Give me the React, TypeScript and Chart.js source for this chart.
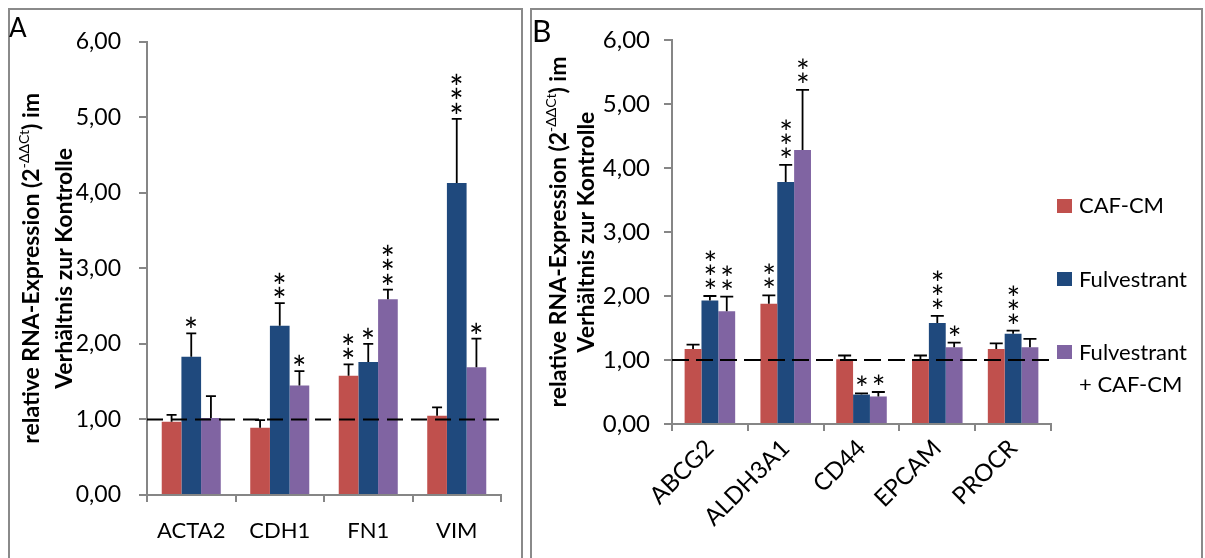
import React, { useEffect, useRef } from 'react';
import { Chart, registerables } from 'chart.js';

Chart.register(...registerables);

const FONT = "Lato, 'Open Sans', sans-serif";
const AXIS = '#868686';

const SERIES = ['CAF-CM', 'Fulvestrant', 'Fulvestrant + CAF-CM'];
const COLORS = ['#C0504D', '#1F497D', '#8064A2'];

// Panel A
const catsA = ['ACTA2', 'CDH1', 'FN1', 'VIM'];
const cafA = [0.97, 0.89, 1.58, 1.05];
const fulA = [1.83, 2.24, 1.76, 4.13];
const comboA = [1.02, 1.45, 2.59, 1.69];
const cafErrA = [0.09, 0.1, 0.15, 0.11];
const fulErrA = [0.31, 0.3, 0.24, 0.85];
const comboErrA = [0.29, 0.19, 0.13, 0.38];
const cafStarsA = [0, 0, 2, 0];
const fulStarsA = [1, 2, 1, 3];
const comboStarsA = [0, 1, 3, 1];

// Panel B
const catsB = ['ABCG2', 'ALDH3A1', 'CD44', 'EPCAM', 'PROCR'];
const cafB = [1.17, 1.88, 1.01, 1.01, 1.17];
const fulB = [1.93, 3.78, 0.46, 1.58, 1.41];
const comboB = [1.76, 4.28, 0.43, 1.2, 1.2];
const cafErrB = [0.07, 0.13, 0.06, 0.06, 0.09];
const fulErrB = [0.07, 0.27, 0.02, 0.11, 0.05];
const comboErrB = [0.23, 0.94, 0.07, 0.07, 0.13];
const cafStarsB = [0, 2, 0, 0, 0];
const fulStarsB = [3, 3, 1, 3, 3];
const comboStarsB = [2, 2, 1, 1, 0];

const yTicks = [0, 1, 2, 3, 4, 5, 6];
const refLine = 1;

const titleLine1 = ['relative RNA-Expression (2', '-ΔΔCt', ') im'];
const titleLine2 = 'Verhältnis zur Kontrolle';

type Panel = {
  cats: string[];
  values: number[][];
  errs: number[][];
  stars: number[][];
  width: number;
  height: number;
  area: { left: number; top: number; right: number; bottom: number };
  tickFont: number;
  tickPad: number;
  catFont: number;
  catPad: number;
  rot: number;
  titleFont: number;
  titleX: [number, number];
  capHalf: number;
  starW: number;
  starGap: number;
  starStep: number;
  dash: number[];
};

const panelA: Panel = {
  cats: catsA,
  values: [cafA, fulA, comboA],
  errs: [cafErrA, fulErrA, comboErrA],
  stars: [cafStarsA, fulStarsA, comboStarsA],
  width: 511,
  height: 548,
  area: { left: 137, top: 28, right: 491, bottom: 485 },
  tickFont: 23,
  tickPad: 18,
  catFont: 22,
  catPad: 16,
  rot: 0,
  titleFont: 23,
  titleX: [29, 62],
  capHalf: 5,
  starW: 10.5,
  starGap: 11,
  starStep: 14.5,
  dash: [16, 8],
};

const panelB: Panel = {
  cats: catsB,
  values: [cafB, fulB, comboB],
  errs: [cafErrB, fulErrB, comboErrB],
  stars: [cafStarsB, fulStarsB, comboStarsB],
  width: 669,
  height: 548,
  area: { left: 140, top: 30, right: 519, bottom: 414 },
  tickFont: 24,
  tickPad: 14,
  catFont: 24,
  catPad: 3,
  rot: 45,
  titleFont: 23,
  titleX: [34, 62],
  capHalf: 6.5,
  starW: 10,
  starGap: 12.5,
  starStep: 14,
  dash: [17, 7],
};

function buildChart(canvas: HTMLCanvasElement, p: Panel) {
  const datasets = SERIES.map((name, i) => ({
    label: name,
    data: p.values[i],
    backgroundColor: COLORS[i],
    borderWidth: 0,
    categoryPercentage: 0.667,
    barPercentage: 1.0,
  }));

  const extras = {
    id: 'extras',
    afterDatasetsDraw(chart: any) {
      const ctx: CanvasRenderingContext2D = chart.ctx;
      const ca = chart.chartArea;
      const ys = chart.scales.y;
      ctx.save();
      ctx.strokeStyle = '#000';
      ctx.fillStyle = '#000';
      ctx.lineWidth = 1.8;
      // size the asterisk glyph to the wanted width
      ctx.font = `100px ${FONT}`;
      const probe = ctx.measureText('*');
      const gw = probe.actualBoundingBoxLeft + probe.actualBoundingBoxRight || 40;
      const starSize = (100 * p.starW) / gw;
      ctx.font = `${starSize.toFixed(1)}px ${FONT}`;
      const m = ctx.measureText('*');
      const starShift = (m.actualBoundingBoxAscent - m.actualBoundingBoxDescent) / 2;
      const starDx = (m.actualBoundingBoxLeft - m.actualBoundingBoxRight) / 2;
      ctx.textAlign = 'left';
      ctx.textBaseline = 'alphabetic';
      p.values.forEach((vals, di) => {
        const meta = chart.getDatasetMeta(di);
        meta.data.forEach((bar: any, j: number) => {
          const top = ys.getPixelForValue(vals[j] + p.errs[di][j]);
          const x = bar.x;
          ctx.beginPath();
          ctx.moveTo(x, bar.y);
          ctx.lineTo(x, top);
          ctx.moveTo(x - p.capHalf, top);
          ctx.lineTo(x + p.capHalf, top);
          ctx.stroke();
          const n = p.stars[di][j];
          for (let k = 0; k < n; k++) {
            const yc = top - p.starGap - k * p.starStep;
            ctx.fillText('*', x + starDx, yc + starShift);
          }
        });
      });
      const y1 = ys.getPixelForValue(refLine);
      ctx.lineWidth = 2;
      ctx.setLineDash(p.dash);
      ctx.beginPath();
      ctx.moveTo(ca.left, y1);
      ctx.lineTo(ca.right + 3, y1);
      ctx.stroke();
      ctx.restore();
    },
    afterDraw(chart: any) {
      const ctx: CanvasRenderingContext2D = chart.ctx;
      const ca = chart.chartArea;
      const yc = (ca.top + ca.bottom) / 2;
      const big = `bold ${p.titleFont}px ${FONT}`;
      const small = `${Math.round(p.titleFont * 0.6)}px ${FONT}`;
      const drawLine = (parts: { t: string; f: string; rise: number }[], xb: number) => {
        ctx.save();
        ctx.translate(xb, yc);
        ctx.rotate(-Math.PI / 2);
        ctx.fillStyle = '#000';
        ctx.textAlign = 'left';
        ctx.textBaseline = 'alphabetic';
        let w = 0;
        parts.forEach((pt) => {
          ctx.font = pt.f;
          w += ctx.measureText(pt.t).width;
        });
        let x = -w / 2;
        parts.forEach((pt) => {
          ctx.font = pt.f;
          ctx.fillText(pt.t, x, -pt.rise);
          x += ctx.measureText(pt.t).width;
        });
        ctx.restore();
      };
      drawLine(
        [
          { t: titleLine1[0], f: big, rise: 0 },
          { t: titleLine1[1], f: small, rise: p.titleFont * 0.42 },
          { t: titleLine1[2], f: big, rise: 0 },
        ],
        p.titleX[0]
      );
      drawLine([{ t: titleLine2, f: big, rise: 0 }], p.titleX[1]);
    },
  };

  return new Chart(canvas, {
    type: 'bar',
    data: { labels: p.cats, datasets },
    options: {
      responsive: false,
      maintainAspectRatio: false,
      animation: false,
      layout: { padding: { left: 0, top: p.area.top, right: p.width - p.area.right, bottom: 0 } },
      plugins: { legend: { display: false }, tooltip: { enabled: false }, title: { display: false } },
      scales: {
        x: {
          grid: {
            display: true,
            drawOnChartArea: false,
            drawTicks: true,
            tickLength: 7,
            color: AXIS,
            lineWidth: 2,
            offset: true,
          },
          border: { display: true, color: AXIS, width: 2 },
          ticks: {
            color: '#000',
            font: { family: FONT, size: p.catFont },
            padding: p.catPad,
            maxRotation: p.rot,
            minRotation: p.rot,
            autoSkip: false,
          },
          afterFit: (s: any) => {
            s.height = p.height - p.area.bottom;
          },
        },
        y: {
          min: 0,
          max: 6,
          afterBuildTicks: (s: any) => {
            s.ticks = yTicks.map((v) => ({ value: v }));
          },
          grid: {
            display: true,
            drawOnChartArea: false,
            drawTicks: true,
            tickLength: 8,
            color: AXIS,
            lineWidth: 2,
          },
          border: { display: true, color: AXIS, width: 2 },
          ticks: {
            color: '#000',
            font: { family: FONT, size: p.tickFont },
            padding: p.tickPad,
            callback: (v: any) => Number(v).toFixed(2).replace('.', ','),
          },
          afterFit: (s: any) => {
            s.width = p.area.left;
          },
        },
      },
    } as any,
    plugins: [extras],
  });
}

const legendText: React.CSSProperties = {
  position: 'absolute',
  fontSize: 22,
  lineHeight: 1,
  color: '#000',
  whiteSpace: 'nowrap',
};

export default function App() {
  const refA = useRef<HTMLCanvasElement>(null);
  const refB = useRef<HTMLCanvasElement>(null);

  useEffect(() => {
    const a = buildChart(refA.current as HTMLCanvasElement, panelA);
    const b = buildChart(refB.current as HTMLCanvasElement, panelB);
    return () => {
      a.destroy();
      b.destroy();
    };
  }, []);

  return (
    <div
      style={{
        position: 'absolute',
        left: 0,
        top: 0,
        width: 1205,
        height: 558,
        overflow: 'hidden',
        background: '#fff',
        fontFamily: FONT,
      }}
    >
      <div style={{ position: 'absolute', left: 8, top: 8, width: 515, height: 600, border: '2px solid #8a8a8a', boxSizing: 'border-box' }} />
      <div style={{ position: 'absolute', left: 530, top: 8, width: 673, height: 600, border: '2px solid #8a8a8a', boxSizing: 'border-box' }} />
      <canvas ref={refA} width={511} height={548} style={{ position: 'absolute', left: 10, top: 10, width: 511, height: 548 }} />
      <canvas ref={refB} width={669} height={548} style={{ position: 'absolute', left: 532, top: 10, width: 669, height: 548 }} />
      <div style={{ position: 'absolute', left: 9, top: 14, fontSize: 26, lineHeight: 1 }}>A</div>
      <div style={{ position: 'absolute', left: 532, top: 15, fontSize: 30, lineHeight: 1 }}>B</div>

      <div style={{ position: 'absolute', left: 1057, top: 199, width: 15, height: 14, background: COLORS[0] }} />
      <div style={{ ...legendText, left: 1079, top: 194 }}>{SERIES[0]}</div>
      <div style={{ position: 'absolute', left: 1057, top: 272, width: 15, height: 14, background: COLORS[1] }} />
      <div style={{ ...legendText, left: 1079, top: 268 }}>{SERIES[1]}</div>
      <div style={{ position: 'absolute', left: 1057, top: 345, width: 15, height: 14, background: COLORS[2] }} />
      <div style={{ ...legendText, left: 1079, top: 341 }}>Fulvestrant</div>
      <div style={{ ...legendText, left: 1079, top: 373 }}>+ CAF-CM</div>
    </div>
  );
}
